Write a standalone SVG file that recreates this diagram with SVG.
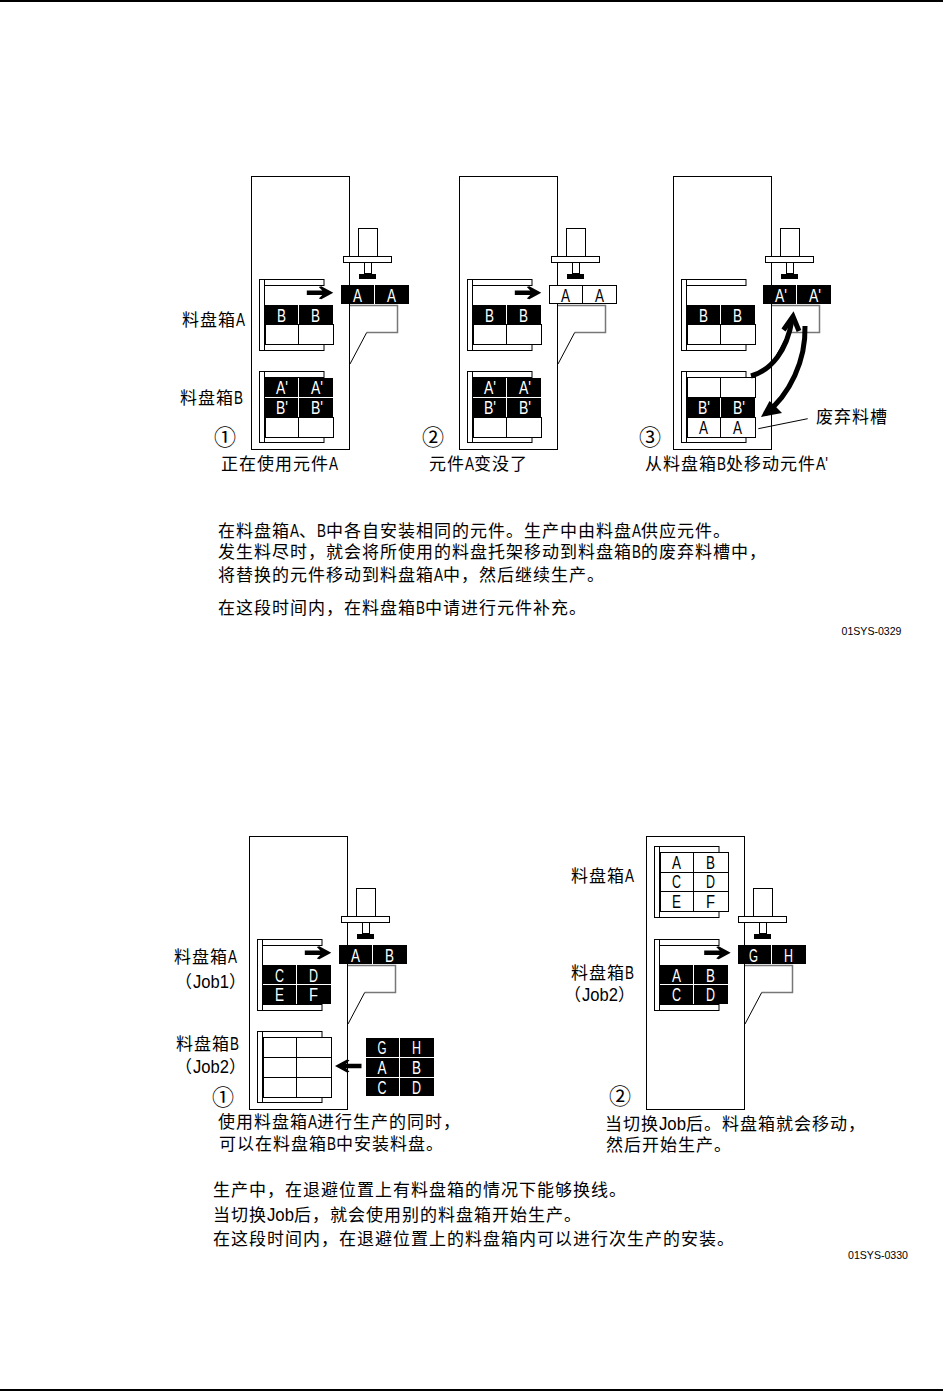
<svg xmlns="http://www.w3.org/2000/svg" width="943" height="1391" viewBox="0 0 943 1391">
<style>
text{font-family:"Noto Sans CJK SC","Noto Sans CJK JP",sans-serif;font-size:17px;letter-spacing:1px;fill:#000}
.l{font-family:"Liberation Sans Narrow","Liberation Sans",Arial,sans-serif;font-size:18px;letter-spacing:0}
.c{font-family:"Liberation Sans Narrow","Liberation Sans",Arial,sans-serif;font-size:18px;letter-spacing:0}
.w{fill:#fff}
text.n{font-size:22px;letter-spacing:0}
text.f{font-family:"Liberation Sans",Arial,sans-serif;font-size:11px;letter-spacing:0}
.o{fill:#fff;stroke:#000;stroke-width:1}
.g{fill:none;stroke:#777;stroke-width:1.5}
.t{fill:none;stroke:#000;stroke-width:1}
.big{fill:none;stroke:#000;stroke-width:5}
</style>
<defs>
<rect id="machine" class="o" x="251.5" y="176.5" width="98" height="273"/>
<g id="head">
<rect class="o" x="358.5" y="228.5" width="19" height="28"/>
<rect class="o" x="343.5" y="256.5" width="48" height="6"/>
<rect class="o" x="364.5" y="262.5" width="7" height="11"/>
<rect x="359" y="274" width="17" height="5"/>
<path class="g" d="M350 305.5H397.5V332.5H366.7"/>
<path class="t" d="M366.7 332.5L350 364"/>
</g>
<g id="shell">
<rect class="o" x="5.5" y="0.5" width="59.5" height="6"/>
<rect class="o" x="5.5" y="65.5" width="59.5" height="6"/>
<rect class="o" x="0.5" y="0.5" width="5" height="71"/>
</g>
<g id="rk"><rect width="68" height="19"/><path d="M33.5 0V19" stroke="#fff" stroke-width="1"/></g>
<g id="rw"><rect class="o" width="68" height="20"/><path d="M33 0V20" stroke="#000" stroke-width="1"/></g>
<g id="tk"><rect width="68" height="19"/><path d="M33.5 0V19" stroke="#fff" stroke-width="1"/></g>
<g id="tw"><rect class="o" x="0.5" y="0.5" width="67" height="18"/><path d="M33.5 0V19" stroke="#000" stroke-width="1"/></g>
<path id="ar" d="M-26.5 -2.2H-11L-14.5 -5.8L-12 -6.5L0 0L-12 6.5L-14.5 5.8L-11 2.2H-26.5Z"/>
</defs>

<rect x="0" y="0" width="943" height="2"/>
<rect x="0" y="1389" width="943" height="2"/>

<g id="panel-1">
<use href="#machine"/>
<use href="#head"/>
<use href="#tk" x="341" y="285"/>
<text class="c w" x="353" y="302" textLength="9" lengthAdjust="spacingAndGlyphs">A</text>
<text class="c w" x="387" y="302" textLength="9" lengthAdjust="spacingAndGlyphs">A</text>
<g id="cassette-a-1"><use href="#shell" x="259" y="279"/>
<use href="#rk" x="265" y="305"/><use href="#rw" x="265.5" y="324.5"/>
<text class="c w" x="277" y="321.5" textLength="9" lengthAdjust="spacingAndGlyphs">B</text>
<text class="c w" x="311" y="321.5" textLength="9" lengthAdjust="spacingAndGlyphs">B</text></g>
<g id="cassette-b-1"><use href="#shell" x="259" y="371"/>
<use href="#rk" x="265" y="378"/><use href="#rk" x="265" y="398"/><use href="#rw" x="265.5" y="417.5"/>
<text class="c w" x="276" y="394" textLength="12" lengthAdjust="spacingAndGlyphs">A'</text>
<text class="c w" x="311" y="394" textLength="12" lengthAdjust="spacingAndGlyphs">A'</text>
<text class="c w" x="276" y="414" textLength="12" lengthAdjust="spacingAndGlyphs">B'</text>
<text class="c w" x="311" y="414" textLength="12" lengthAdjust="spacingAndGlyphs">B'</text></g>
<text x="182" y="326">料盘箱<tspan class="l" textLength="9" lengthAdjust="spacingAndGlyphs">A</tspan></text>
<text x="180" y="404">料盘箱<tspan class="l" textLength="9" lengthAdjust="spacingAndGlyphs">B</tspan></text>
<text class="n" x="214" y="445">①</text>
<text x="221" y="470">正在使用元件<tspan class="l" textLength="9" lengthAdjust="spacingAndGlyphs">A</tspan></text>
</g>

<g id="panel-2" transform="translate(208 0)">
<use href="#machine"/>
<use href="#head"/>
<use href="#tw" x="341" y="285"/>
<text class="c" x="353" y="302" textLength="9" lengthAdjust="spacingAndGlyphs">A</text>
<text class="c" x="387" y="302" textLength="9" lengthAdjust="spacingAndGlyphs">A</text>
<g id="cassette-a-2"><use href="#shell" x="259" y="279"/>
<use href="#rk" x="265" y="305"/><use href="#rw" x="265.5" y="324.5"/>
<text class="c w" x="277" y="321.5" textLength="9" lengthAdjust="spacingAndGlyphs">B</text>
<text class="c w" x="311" y="321.5" textLength="9" lengthAdjust="spacingAndGlyphs">B</text></g>
<g id="cassette-b-2"><use href="#shell" x="259" y="371"/>
<use href="#rk" x="265" y="378"/><use href="#rk" x="265" y="398"/><use href="#rw" x="265.5" y="417.5"/>
<text class="c w" x="276" y="394" textLength="12" lengthAdjust="spacingAndGlyphs">A'</text>
<text class="c w" x="311" y="394" textLength="12" lengthAdjust="spacingAndGlyphs">A'</text>
<text class="c w" x="276" y="414" textLength="12" lengthAdjust="spacingAndGlyphs">B'</text>
<text class="c w" x="311" y="414" textLength="12" lengthAdjust="spacingAndGlyphs">B'</text></g>
<text class="n" x="214" y="445">②</text>
<text x="221" y="470">元件<tspan class="l" textLength="9" lengthAdjust="spacingAndGlyphs">A</tspan>变没了</text>
</g>

<g id="panel-3" transform="translate(422 0)">
<use href="#machine"/>
<use href="#head"/>
<use href="#tk" x="341" y="285"/>
<text class="c w" x="353" y="302" textLength="12" lengthAdjust="spacingAndGlyphs">A'</text>
<text class="c w" x="387" y="302" textLength="12" lengthAdjust="spacingAndGlyphs">A'</text>
<g id="cassette-a-3"><use href="#shell" x="259" y="279"/>
<use href="#rk" x="265" y="305"/><use href="#rw" x="265.5" y="324.5"/>
<text class="c w" x="277" y="321.5" textLength="9" lengthAdjust="spacingAndGlyphs">B</text>
<text class="c w" x="311" y="321.5" textLength="9" lengthAdjust="spacingAndGlyphs">B</text></g>
<g id="cassette-b-3"><use href="#shell" x="259" y="371"/>
<use href="#rw" x="265.5" y="377.5"/><use href="#rk" x="265" y="398"/><use href="#rw" x="265.5" y="417.5"/>
<text class="c w" x="276" y="414" textLength="12" lengthAdjust="spacingAndGlyphs">B'</text>
<text class="c w" x="311" y="414" textLength="12" lengthAdjust="spacingAndGlyphs">B'</text>
<text class="c" x="277" y="433.5" textLength="9" lengthAdjust="spacingAndGlyphs">A</text>
<text class="c" x="311" y="433.5" textLength="9" lengthAdjust="spacingAndGlyphs">A</text></g>
<text class="n" x="217" y="445">③</text>
<text x="223" y="470">从料盘箱<tspan class="l" textLength="9" lengthAdjust="spacingAndGlyphs">B</tspan>处移动元件<tspan class="l" textLength="12" lengthAdjust="spacingAndGlyphs">A'</tspan></text>
<text x="394" y="422.5">废弃料槽</text>
</g>

<g id="note-1">
<text x="218" y="536.5">在料盘箱<tspan class="l" textLength="9" lengthAdjust="spacingAndGlyphs">A</tspan>、<tspan class="l" textLength="9" lengthAdjust="spacingAndGlyphs">B</tspan>中各自安装相同的元件。生产中由料盘<tspan class="l" textLength="9" lengthAdjust="spacingAndGlyphs">A</tspan>供应元件。</text>
<text x="218" y="557.5">发生料尽时，就会将所使用的料盘托架移动到料盘箱<tspan class="l" textLength="9" lengthAdjust="spacingAndGlyphs">B</tspan>的废弃料槽中，</text>
<text x="218" y="581">将替换的元件移动到料盘箱<tspan class="l" textLength="9" lengthAdjust="spacingAndGlyphs">A</tspan>中，然后继续生产。</text>
<text x="218" y="614">在这段时间内，在料盘箱<tspan class="l" textLength="9" lengthAdjust="spacingAndGlyphs">B</tspan>中请进行元件补充。</text>
<text class="f" x="841.5" y="635" textLength="60" lengthAdjust="spacingAndGlyphs">01SYS-0329</text>
</g>

<g id="panel-4" transform="translate(-2 660)">
<use href="#machine"/>
<use href="#head"/>
<use href="#tk" x="341" y="285"/>
<text class="c w" x="353" y="302" textLength="9" lengthAdjust="spacingAndGlyphs">A</text>
<text class="c w" x="387" y="302" textLength="9" lengthAdjust="spacingAndGlyphs">B</text>
<g id="cassette-a-4"><use href="#shell" x="259" y="279"/>
<use href="#rk" x="265" y="305"/><use href="#rk" x="265" y="325"/>
<text class="c w" x="277" y="321.5" textLength="9" lengthAdjust="spacingAndGlyphs">C</text>
<text class="c w" x="311" y="321.5" textLength="9" lengthAdjust="spacingAndGlyphs">D</text>
<text class="c w" x="277" y="341" textLength="9" lengthAdjust="spacingAndGlyphs">E</text>
<text class="c w" x="311" y="341" textLength="9" lengthAdjust="spacingAndGlyphs">F</text></g>
<g id="cassette-b-4"><use href="#shell" x="259" y="371"/>
<use href="#rw" x="265.5" y="377.5"/><use href="#rw" x="265.5" y="397.5"/><use href="#rw" x="265.5" y="417.5"/></g>
<g id="stack">
<use href="#rk" x="368" y="378"/><use href="#rk" x="368" y="398"/>
<rect x="368" y="418" width="68" height="18"/><path d="M401.5 418V436" stroke="#fff" stroke-width="1"/>
<text class="c w" x="379.5" y="394" textLength="9" lengthAdjust="spacingAndGlyphs">G</text>
<text class="c w" x="414" y="394" textLength="9" lengthAdjust="spacingAndGlyphs">H</text>
<text class="c w" x="379.5" y="414" textLength="9" lengthAdjust="spacingAndGlyphs">A</text>
<text class="c w" x="414" y="414" textLength="9" lengthAdjust="spacingAndGlyphs">B</text>
<text class="c w" x="379.5" y="434" textLength="9" lengthAdjust="spacingAndGlyphs">C</text>
<text class="c w" x="414" y="434" textLength="9" lengthAdjust="spacingAndGlyphs">D</text>
</g>
<text x="176" y="302.5">料盘箱<tspan class="l" textLength="9" lengthAdjust="spacingAndGlyphs">A</tspan></text>
<text x="177" y="328">（<tspan class="l" textLength="36" lengthAdjust="spacingAndGlyphs">Job1</tspan>）</text>
<text x="178" y="390">料盘箱<tspan class="l" textLength="9" lengthAdjust="spacingAndGlyphs">B</tspan></text>
<text x="177" y="413">（<tspan class="l" textLength="36" lengthAdjust="spacingAndGlyphs">Job2</tspan>）</text>
<text class="n" x="214" y="445">①</text>
<text x="220" y="468">使用料盘箱<tspan class="l" textLength="9" lengthAdjust="spacingAndGlyphs">A</tspan>进行生产的同时，</text>
<text x="221" y="490">可以在料盘箱<tspan class="l" textLength="9" lengthAdjust="spacingAndGlyphs">B</tspan>中安装料盘。</text>
</g>

<g id="panel-5" transform="translate(395 660)">
<use href="#machine"/>
<use href="#head"/>
<use href="#tk" x="343" y="285"/>
<text class="c w" x="354" y="302" textLength="9" lengthAdjust="spacingAndGlyphs">G</text>
<text class="c w" x="389" y="302" textLength="9" lengthAdjust="spacingAndGlyphs">H</text>
<g id="cassette-a-5"><use href="#shell" x="259" y="186"/>
<use href="#rw" x="265.5" y="192.5"/><use href="#rw" x="265.5" y="212.5"/><use href="#rw" x="265.5" y="231.5"/>
<text class="c" x="277" y="208.5" textLength="9" lengthAdjust="spacingAndGlyphs">A</text>
<text class="c" x="311" y="208.5" textLength="9" lengthAdjust="spacingAndGlyphs">B</text>
<text class="c" x="277" y="228" textLength="9" lengthAdjust="spacingAndGlyphs">C</text>
<text class="c" x="311" y="228" textLength="9" lengthAdjust="spacingAndGlyphs">D</text>
<text class="c" x="277" y="247.5" textLength="9" lengthAdjust="spacingAndGlyphs">E</text>
<text class="c" x="311" y="247.5" textLength="9" lengthAdjust="spacingAndGlyphs">F</text></g>
<g id="cassette-b-5"><use href="#shell" x="259" y="279"/>
<use href="#rk" x="265" y="305"/><use href="#rk" x="265" y="325"/>
<text class="c w" x="277" y="321.5" textLength="9" lengthAdjust="spacingAndGlyphs">A</text>
<text class="c w" x="311" y="321.5" textLength="9" lengthAdjust="spacingAndGlyphs">B</text>
<text class="c w" x="277" y="341" textLength="9" lengthAdjust="spacingAndGlyphs">C</text>
<text class="c w" x="311" y="341" textLength="9" lengthAdjust="spacingAndGlyphs">D</text></g>
<text x="176" y="222">料盘箱<tspan class="l" textLength="9" lengthAdjust="spacingAndGlyphs">A</tspan></text>
<text x="176" y="319">料盘箱<tspan class="l" textLength="9" lengthAdjust="spacingAndGlyphs">B</tspan></text>
<text x="169" y="341">（<tspan class="l" textLength="36" lengthAdjust="spacingAndGlyphs">Job2</tspan>）</text>
<text class="n" x="214" y="444">②</text>
<text x="210" y="470">当切换<tspan class="l" textLength="27" lengthAdjust="spacingAndGlyphs">Job</tspan>后。料盘箱就会移动，</text>
<text x="211" y="491">然后开始生产。</text>
</g>

<g id="note-2">
<text x="213" y="1196">生产中，在退避位置上有料盘箱的情况下能够换线。</text>
<text x="213" y="1221">当切换<tspan class="l" textLength="27" lengthAdjust="spacingAndGlyphs">Job</tspan>后，就会使用别的料盘箱开始生产。</text>
<text x="213" y="1245">在这段时间内，在退避位置上的料盘箱内可以进行次生产的安装。</text>
<text class="f" x="848" y="1259" textLength="60" lengthAdjust="spacingAndGlyphs">01SYS-0330</text>
</g>

<g id="connectors">
<use href="#ar" transform="translate(333.3 292.7)"/>
<use href="#ar" transform="translate(541.3 292.7)"/>
<use href="#ar" transform="translate(331.3 952.7)"/>
<use href="#ar" transform="translate(730.7 952.7)"/>
<use href="#ar" transform="translate(335 1066) rotate(180)"/>
<path class="big" d="M751 376C772 370 787 350 792 320"/>
<path class="big" d="M783.5 330L793 316.5L799 331"/>
<path class="big" d="M805 326C806 360 790 395 765 414"/>
<path d="M761 417L769.5 401L775 406L782 413Z"/>
<path class="t" d="M758.3 428.7L807.7 418.7"/>
</g>
</svg>
